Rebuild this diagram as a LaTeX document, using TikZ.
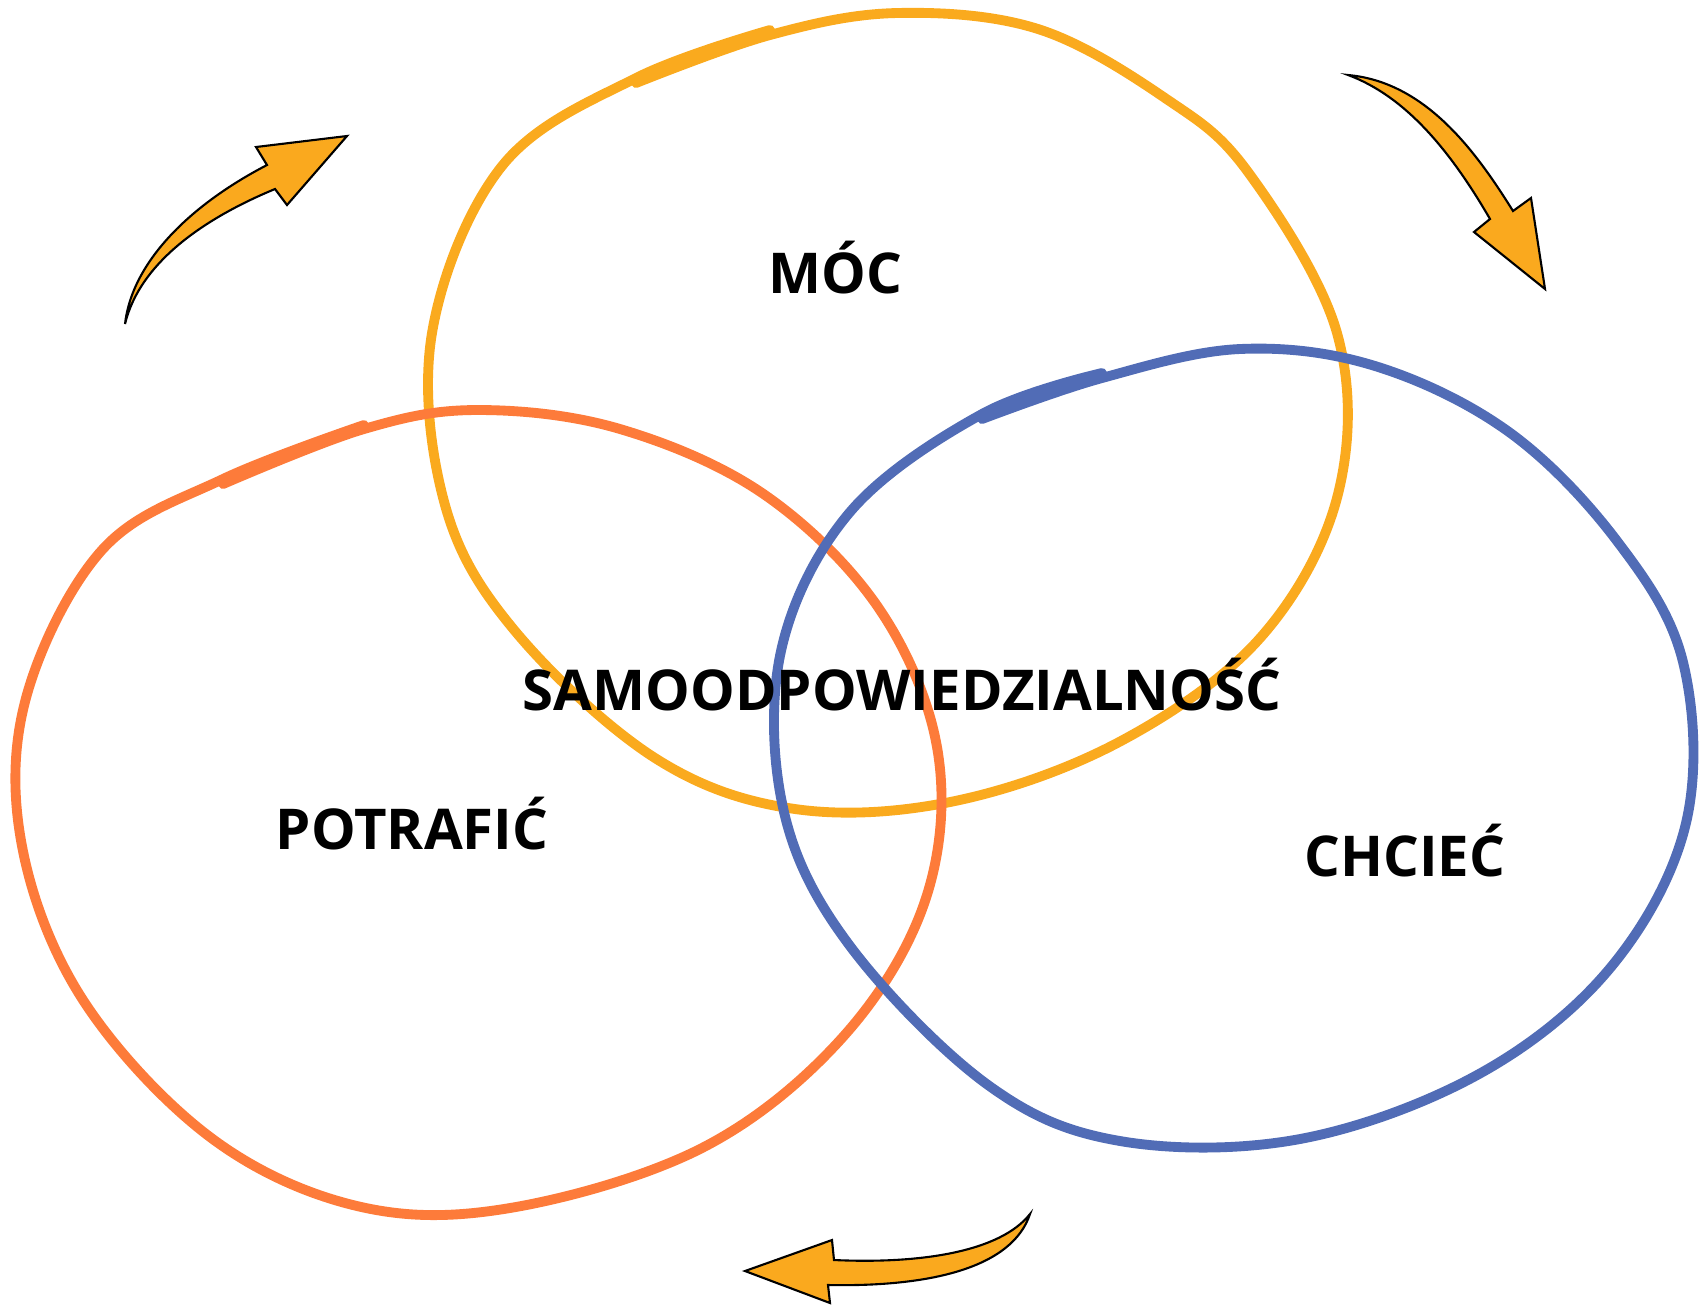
\documentclass[tikz,border=0pt]{standalone}
\usepackage{fontspec}
\setmainfont{Open Sans}
\usetikzlibrary{positioning}

\definecolor{ringyellow}{RGB}{250,170,30}
\definecolor{ringred}{RGB}{253,123,58}
\definecolor{ringblue}{RGB}{81,108,182}
\definecolor{arrowfill}{RGB}{250,169,30}

\tikzset{
    ring/.style={line width=2.8pt, line cap=round, line join=round},
    word/.style={font=\fontsize{16}{19}\selectfont\bfseries, inner sep=0pt, anchor=base},
    bentarrow/.style={fill=arrowfill, draw=black, line width=0.6pt, line join=miter},
}

\begin{document}
\begin{tikzpicture}[x=0.01cm, y=-0.01cm]
        \useasboundingbox (0,0) rectangle (1700,1305);

        % Draw the rings
        \draw[ring, ringyellow] plot[smooth, tension=0.6] coordinates {
            (636,83) (770,35) (897,13) (1038,29) (1165,98) (1248,172) (1337,333)
            (1338,494) (1261,637) (1121,741) (955,801) (795,809) (655,758)
            (515,631) (445,505) (432,333) (502,166) (636,78) (770,30)};

        \draw[ring, ringred] plot[smooth, tension=0.6] coordinates {
            (223,484) (364,429) (478,410) (620,429) (765,495) (880,610) (938,753)
            (925,901) (842,1038) (702,1148) (510,1208) (357,1206) (210,1137)
            (83,1000) (22,846) (26,698) (102,550) (223,479) (364,425)};

        \draw[ring, ringblue] plot[smooth, tension=0.6] coordinates {
            (982,419) (1102,378) (1240,349) (1375,366) (1509,432) (1617,541)
            (1683,662) (1686,823) (1611,967) (1479,1074) (1300,1139) (1120,1141)
            (988,1085) (850,946) (784,812) (781,651) (850,512) (982,414) (1102,373)};

        % Draw the arrows
        \draw[bentarrow] (125,324) .. controls (132,262) and (190,205) .. (267,165)
            -- (256,147) -- (347,136) -- (287,205) -- (275,189)
            .. controls (205,218) and (140,262) .. cycle;
        \draw[bentarrow] (1348,75) .. controls (1425,82) and (1475,150) .. (1513,211)
            -- (1531,198) -- (1545,289) -- (1474,232) -- (1490,219)
            .. controls (1450,150) and (1405,96) .. cycle;
        \draw[bentarrow] (1030,1214) .. controls (1000,1252) and (920,1264) .. (834,1260)
            -- (832,1240) -- (745,1271) -- (830,1303) -- (828,1285)
            .. controls (930,1287) and (1012,1268) .. cycle;

        % Put the words
        \node[word] (moc)  at (835,293)  {MÓC};
        \node[word] (pot)  at (412,849)  {POTRAFIĆ};
        \node[word] (chc)  at (1405,876) {CHCIEĆ};
        \node[word] (samo) at (902,710)  {SAMOODPOWIEDZIALNOŚĆ};
\end{tikzpicture}
\end{document}
